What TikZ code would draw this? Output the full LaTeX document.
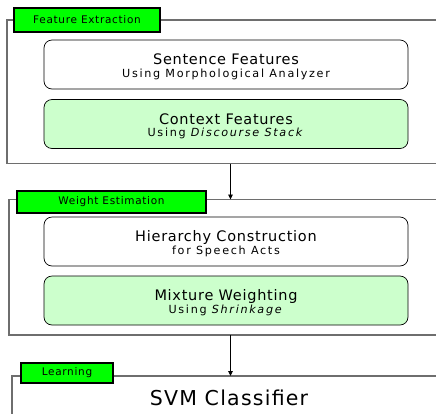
\documentclass[tikz,border=0pt]{standalone}
\usepackage{fontspec}
\setmainfont{DejaVu Sans}
\usetikzlibrary{arrows.meta}
\definecolor{tagGreen}{HTML}{00FF00}
\definecolor{paleGreen}{HTML}{CCFFCC}
\definecolor{frameGray}{HTML}{6E6E6E}
\newcommand\headtxt[1]{{\fontsize{14.5}{15}\selectfont\addfontfeature{LetterSpace=5}\rule{0pt}{15pt}#1}}
\newcommand\subtxt[1]{{\fontsize{11.2}{12}\selectfont\addfontfeature{LetterSpace=15}#1}}
\tikzset{
  stageframe/.style={draw=frameGray, line width=1.1pt},
  stagetag/.style={draw=black, line width=1.2pt, fill=tagGreen, inner sep=0pt,
    font=\fontsize{10.5}{11}\selectfont\addfontfeature{LetterSpace=6.5}},
  inbox/.style={draw=black, line width=0.7pt, rounded corners=8pt, fill=white,
    minimum width=364pt, minimum height=49pt, inner sep=0pt, align=center},
  hlbox/.style={inbox, fill=paleGreen},
  flow/.style={draw=black, line width=0.9pt, -{Triangle[length=5pt,width=4.5pt]}}
}
\begin{document}
\begin{tikzpicture}[x=1pt,y=-1pt]
  \useasboundingbox (0,0) rectangle (436,413);
  \clip (0,0) rectangle (436,413);

  % stage frames: open on the right, running off the page
  \draw[stageframe] (445,20) -- (7,20) -- (7,163.5) -- (445,163.5);
  \draw[stageframe] (445,199.5) -- (9,199.5) -- (9,335) -- (445,335);
  \draw[stageframe] (445,376) -- (12,376) -- (12,420);

  % stage tags
  \node[stagetag, minimum width=146pt, minimum height=24pt] (tag1) at (87,20) {Feature Extraction};
  \node[stagetag, minimum width=189pt, minimum height=22pt] (tag2) at (111.5,202) {Weight Estimation};
  \node[stagetag, minimum width=92pt, minimum height=20pt] (tag3) at (67,373) {Learning};

  % feature extraction steps
  \node[inbox] (sent) at (226,64.5) {\headtxt{Sentence Features}\\[0.5pt]\subtxt{Using Morphological Analyzer}};
  \node[hlbox] (ctx) at (226,124) {\headtxt{Context Features}\\[0.5pt]\subtxt{Using \textit{Discourse Stack}}};

  % weight estimation steps
  \node[inbox] (hier) at (226,241.5) {\headtxt{Hierarchy Construction}\\[0.5pt]\subtxt{for Speech Acts}};
  \node[hlbox] (mix) at (226,300.5) {\headtxt{Mixture Weighting}\\[0.5pt]\subtxt{Using \textit{Shrinkage}}};

  % learning
  \node[anchor=base, font=\fontsize{20.5}{22}\selectfont\addfontfeature{LetterSpace=6}] (svm) at (229,405) {SVM Classifier};

  % flow between stages
  \coordinate (out1) at (230.5,163.5);
  \coordinate (in2) at (230.5,199.5);
  \coordinate (out2) at (230.5,335);
  \coordinate (in3) at (230.5,376);
  \draw[flow] (out1) -- (in2);
  \draw[flow] (out2) -- (in3);
\end{tikzpicture}
\end{document}
